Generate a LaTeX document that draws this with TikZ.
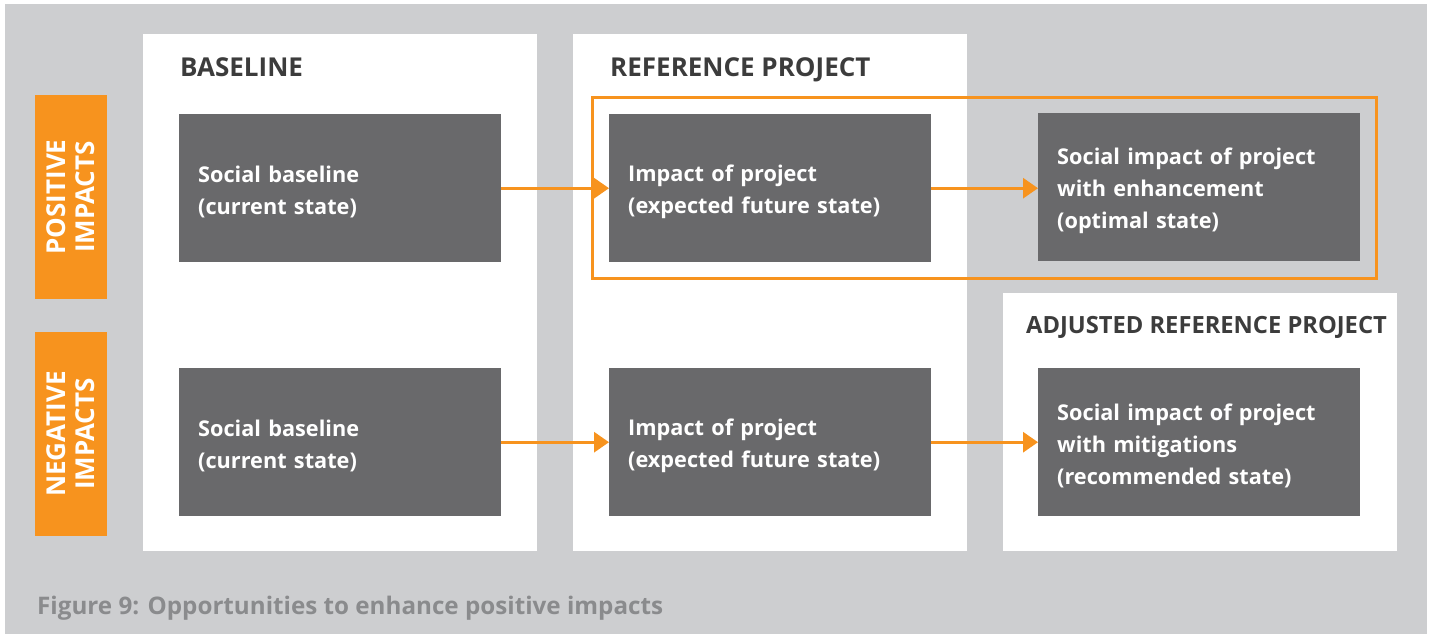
\documentclass[tikz,border=0pt]{standalone}
\usepackage{fontspec}
\setmainfont{Open Sans}
\usetikzlibrary{arrows.meta}
\definecolor{bggray}{HTML}{CDCED0}
\definecolor{darkbox}{HTML}{69696B}
\definecolor{orng}{HTML}{F7931E}
\definecolor{titlecol}{HTML}{3C3C3C}
\definecolor{capcol}{HTML}{8A8B8D}
\tikzset{
  darkbox/.style={fill=darkbox, draw=none, minimum width=322pt, minimum height=148pt,
    inner sep=0pt, anchor=north west},
  boxtext/.style={text width=284pt, inner sep=0pt, align=left, text=white, yshift=-4pt,
    font=\bfseries\fontsize{21.7}{32}\selectfont},
  paneltitle/.style={anchor=base west, inner sep=0pt, text=titlecol, font=\bfseries\fontsize{26}{30}\selectfont},
  sidebox/.style={fill=orng, draw=none, rotate=90, minimum width=204pt, minimum height=72pt,
    inner sep=0pt, align=center, text=white, font=\bfseries\fontsize{26}{29}\selectfont},
  flow/.style={draw=orng, line width=3pt, -{Triangle[length=15pt,width=20pt]}},
}
\begin{document}
\begin{tikzpicture}[x=1pt,y=-1pt]
\useasboundingbox (0,0) rectangle (1431,638);
\fill[bggray] (5,4) rectangle (1427,634);
% panels
\fill[white] (143,34) rectangle (537,551);
\fill[white] (573,34) rectangle (967,551);
\fill[white] (1003,293) rectangle (1397,551);
% titles
\node[paneltitle] (t1) at (180,76) {BASELINE};
\node[paneltitle] (t2) at (610,76) {REFERENCE PROJECT};
\node[paneltitle, font=\bfseries\fontsize{23.7}{28}\selectfont] (t3) at (1026,333) {ADJUSTED REFERENCE PROJECT};
% orange frame
\draw[orng, line width=3pt] (592.5,97.5) rectangle (1376.5,278.5);
% side boxes
\node[sidebox] (pos) at (71,197) {POSITIVE\\IMPACTS};
\node[sidebox] (neg) at (71,434) {NEGATIVE\\IMPACTS};
% dark boxes
\node[darkbox, label={[boxtext]center:{Social baseline\\(current state)}}] (b11) at (179,114) {};
\node[darkbox, label={[boxtext]center:{Impact of project\\(expected future state)}}] (b12) at (609,114) {};
\node[darkbox, label={[boxtext]center:{Social impact of project\\with enhancement\\(optimal state)}}] (b13) at (1038,113) {};
\node[darkbox, label={[boxtext]center:{Social baseline\\(current state)}}] (b21) at (179,368) {};
\node[darkbox, label={[boxtext]center:{Impact of project\\(expected future state)}}] (b22) at (609,368) {};
\node[darkbox, label={[boxtext]center:{Social impact of project\\with mitigations\\(recommended state)}}] (b23) at (1038,368) {};
% arrows
\draw[flow] (b11.east) -- (b12.west);
\draw[flow] (b12.east) -- (b13.west |- b12.east);
\draw[flow] (b21.east) -- (b22.west);
\draw[flow] (b22.east) -- (b23.west);
% caption
\node[anchor=base west, inner sep=0pt, text=capcol, font=\bfseries\fontsize{24.2}{28}\selectfont] (cap) at (37,614) {Figure 9: Opportunities to enhance positive impacts};
\end{tikzpicture}
\end{document}
